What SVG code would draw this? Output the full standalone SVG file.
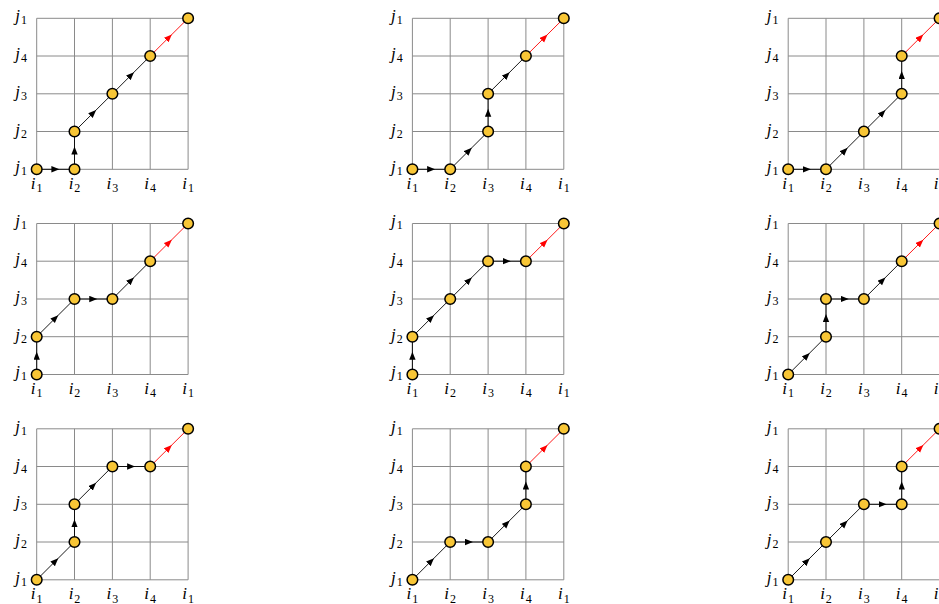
<svg xmlns="http://www.w3.org/2000/svg" width="939" height="604" viewBox="0 0 939 604">
<style>
.grid{fill:none;stroke:#8a8a8a;stroke-width:1}
.lbl{font-family:"Liberation Serif","DejaVu Serif",serif;font-style:italic;font-size:17px;fill:#000}
.sub{font-style:normal;font-size:12px}
.je{text-anchor:end}
.im{text-anchor:middle}
.c{fill:none;stroke:#000;stroke-width:0.9;marker-mid:url(#ah)}
.r{fill:none;stroke:#ff0000;stroke-width:0.9;marker-mid:url(#ahr)}
.n{fill:#F8C636;stroke:#000;stroke-width:1.5}
</style>
<defs>
<marker id="ah" markerUnits="userSpaceOnUse" markerWidth="10" markerHeight="8" refX="4.2" refY="3.2" orient="auto"><path d="M0,0 L8,3.2 L0,6.4 z" fill="#000"/></marker>
<marker id="ahr" markerUnits="userSpaceOnUse" markerWidth="10" markerHeight="8" refX="4.2" refY="3.2" orient="auto"><path d="M0,0 L8,3.2 L0,6.4 z" fill="#ff0000"/></marker>
<path id="gridp" class="grid" d="M36.7 18.3V169.3M74.5 18.3V169.3M112.4 18.3V169.3M150.2 18.3V169.3M188.1 18.3V169.3M36.7 18.3H188.1M36.7 56H188.1M36.7 93.8H188.1M36.7 131.5H188.1M36.7 169.3H188.1"/>
</defs>
<rect width="939" height="604" fill="#fff"/>

<!-- Panel 1,1 -->
<g id="p11">
<use href="#gridp"/>
<text class="lbl je" x="27" y="172.3">j<tspan class="sub" dx="1" dy="3">1</tspan></text>
<text class="lbl je" x="27" y="134.5">j<tspan class="sub" dx="1" dy="3">2</tspan></text>
<text class="lbl je" x="27" y="96.8">j<tspan class="sub" dx="1" dy="3">3</tspan></text>
<text class="lbl je" x="27" y="59">j<tspan class="sub" dx="1" dy="3">4</tspan></text>
<text class="lbl je" x="27" y="21.3">j<tspan class="sub" dx="1" dy="3">1</tspan></text>
<text class="lbl im" x="36.7" y="188.5">i<tspan class="sub" dx="1" dy="3.5">1</tspan></text>
<text class="lbl im" x="74.5" y="188.5">i<tspan class="sub" dx="1" dy="3.5">2</tspan></text>
<text class="lbl im" x="112.4" y="188.5">i<tspan class="sub" dx="1" dy="3.5">3</tspan></text>
<text class="lbl im" x="150.2" y="188.5">i<tspan class="sub" dx="1" dy="3.5">4</tspan></text>
<text class="lbl im" x="188.1" y="188.5">i<tspan class="sub" dx="1" dy="3.5">1</tspan></text>
<g id="p11-connectors">
<path class="c" d="M36.7 169.3 L55.6 169.3 L74.5 169.3"/>
<path class="c" d="M74.5 169.3 L74.5 150.4 L74.5 131.5"/>
<path class="c" d="M74.5 131.5 L93.45 112.65 L112.4 93.8"/>
<path class="c" d="M112.4 93.8 L131.3 74.9 L150.2 56"/>
<path class="r" d="M150.2 56 L169.15 37.15 L188.1 18.3"/>
</g>
<g id="n11-1"><circle class="n" cx="36.7" cy="169.3" r="5.3"/></g>
<g id="n11-2"><circle class="n" cx="74.5" cy="169.3" r="5.3"/></g>
<g id="n11-3"><circle class="n" cx="74.5" cy="131.5" r="5.3"/></g>
<g id="n11-4"><circle class="n" cx="112.4" cy="93.8" r="5.3"/></g>
<g id="n11-5"><circle class="n" cx="150.2" cy="56" r="5.3"/></g>
<g id="n11-6"><circle class="n" cx="188.1" cy="18.3" r="5.3"/></g>
</g>

<!-- Panel 1,2 -->
<g id="p12" transform="translate(375.7,0)">
<use href="#gridp"/>
<text class="lbl je" x="27" y="172.3">j<tspan class="sub" dx="1" dy="3">1</tspan></text>
<text class="lbl je" x="27" y="134.5">j<tspan class="sub" dx="1" dy="3">2</tspan></text>
<text class="lbl je" x="27" y="96.8">j<tspan class="sub" dx="1" dy="3">3</tspan></text>
<text class="lbl je" x="27" y="59">j<tspan class="sub" dx="1" dy="3">4</tspan></text>
<text class="lbl je" x="27" y="21.3">j<tspan class="sub" dx="1" dy="3">1</tspan></text>
<text class="lbl im" x="36.7" y="188.5">i<tspan class="sub" dx="1" dy="3.5">1</tspan></text>
<text class="lbl im" x="74.5" y="188.5">i<tspan class="sub" dx="1" dy="3.5">2</tspan></text>
<text class="lbl im" x="112.4" y="188.5">i<tspan class="sub" dx="1" dy="3.5">3</tspan></text>
<text class="lbl im" x="150.2" y="188.5">i<tspan class="sub" dx="1" dy="3.5">4</tspan></text>
<text class="lbl im" x="188.1" y="188.5">i<tspan class="sub" dx="1" dy="3.5">1</tspan></text>
<g id="p12-connectors">
<path class="c" d="M36.7 169.3 L55.6 169.3 L74.5 169.3"/>
<path class="c" d="M74.5 169.3 L93.45 150.4 L112.4 131.5"/>
<path class="c" d="M112.4 131.5 L112.4 112.65 L112.4 93.8"/>
<path class="c" d="M112.4 93.8 L131.3 74.9 L150.2 56"/>
<path class="r" d="M150.2 56 L169.15 37.15 L188.1 18.3"/>
</g>
<g id="n12-1"><circle class="n" cx="36.7" cy="169.3" r="5.3"/></g>
<g id="n12-2"><circle class="n" cx="74.5" cy="169.3" r="5.3"/></g>
<g id="n12-3"><circle class="n" cx="112.4" cy="131.5" r="5.3"/></g>
<g id="n12-4"><circle class="n" cx="112.4" cy="93.8" r="5.3"/></g>
<g id="n12-5"><circle class="n" cx="150.2" cy="56" r="5.3"/></g>
<g id="n12-6"><circle class="n" cx="188.1" cy="18.3" r="5.3"/></g>
</g>

<!-- Panel 1,3 -->
<g id="p13" transform="translate(751.5,0)">
<use href="#gridp"/>
<text class="lbl je" x="27" y="172.3">j<tspan class="sub" dx="1" dy="3">1</tspan></text>
<text class="lbl je" x="27" y="134.5">j<tspan class="sub" dx="1" dy="3">2</tspan></text>
<text class="lbl je" x="27" y="96.8">j<tspan class="sub" dx="1" dy="3">3</tspan></text>
<text class="lbl je" x="27" y="59">j<tspan class="sub" dx="1" dy="3">4</tspan></text>
<text class="lbl je" x="27" y="21.3">j<tspan class="sub" dx="1" dy="3">1</tspan></text>
<text class="lbl im" x="36.7" y="188.5">i<tspan class="sub" dx="1" dy="3.5">1</tspan></text>
<text class="lbl im" x="74.5" y="188.5">i<tspan class="sub" dx="1" dy="3.5">2</tspan></text>
<text class="lbl im" x="112.4" y="188.5">i<tspan class="sub" dx="1" dy="3.5">3</tspan></text>
<text class="lbl im" x="150.2" y="188.5">i<tspan class="sub" dx="1" dy="3.5">4</tspan></text>
<text class="lbl im" x="188.1" y="188.5">i<tspan class="sub" dx="1" dy="3.5">1</tspan></text>
<g id="p13-connectors">
<path class="c" d="M36.7 169.3 L55.6 169.3 L74.5 169.3"/>
<path class="c" d="M74.5 169.3 L93.45 150.4 L112.4 131.5"/>
<path class="c" d="M112.4 131.5 L131.3 112.65 L150.2 93.8"/>
<path class="c" d="M150.2 93.8 L150.2 74.9 L150.2 56"/>
<path class="r" d="M150.2 56 L169.15 37.15 L188.1 18.3"/>
</g>
<g id="n13-1"><circle class="n" cx="36.7" cy="169.3" r="5.3"/></g>
<g id="n13-2"><circle class="n" cx="74.5" cy="169.3" r="5.3"/></g>
<g id="n13-3"><circle class="n" cx="112.4" cy="131.5" r="5.3"/></g>
<g id="n13-4"><circle class="n" cx="150.2" cy="93.8" r="5.3"/></g>
<g id="n13-5"><circle class="n" cx="150.2" cy="56" r="5.3"/></g>
<g id="n13-6"><circle class="n" cx="188.1" cy="18.3" r="5.3"/></g>
</g>

<!-- Panel 2,1 -->
<g id="p21" transform="translate(0,205.2)">
<use href="#gridp"/>
<text class="lbl je" x="27" y="172.3">j<tspan class="sub" dx="1" dy="3">1</tspan></text>
<text class="lbl je" x="27" y="134.5">j<tspan class="sub" dx="1" dy="3">2</tspan></text>
<text class="lbl je" x="27" y="96.8">j<tspan class="sub" dx="1" dy="3">3</tspan></text>
<text class="lbl je" x="27" y="59">j<tspan class="sub" dx="1" dy="3">4</tspan></text>
<text class="lbl je" x="27" y="21.3">j<tspan class="sub" dx="1" dy="3">1</tspan></text>
<text class="lbl im" x="36.7" y="188.5">i<tspan class="sub" dx="1" dy="3.5">1</tspan></text>
<text class="lbl im" x="74.5" y="188.5">i<tspan class="sub" dx="1" dy="3.5">2</tspan></text>
<text class="lbl im" x="112.4" y="188.5">i<tspan class="sub" dx="1" dy="3.5">3</tspan></text>
<text class="lbl im" x="150.2" y="188.5">i<tspan class="sub" dx="1" dy="3.5">4</tspan></text>
<text class="lbl im" x="188.1" y="188.5">i<tspan class="sub" dx="1" dy="3.5">1</tspan></text>
<g id="p21-connectors">
<path class="c" d="M36.7 169.3 L36.7 150.4 L36.7 131.5"/>
<path class="c" d="M36.7 131.5 L55.6 112.65 L74.5 93.8"/>
<path class="c" d="M74.5 93.8 L93.45 93.8 L112.4 93.8"/>
<path class="c" d="M112.4 93.8 L131.3 74.9 L150.2 56"/>
<path class="r" d="M150.2 56 L169.15 37.15 L188.1 18.3"/>
</g>
<g id="n21-1"><circle class="n" cx="36.7" cy="169.3" r="5.3"/></g>
<g id="n21-2"><circle class="n" cx="36.7" cy="131.5" r="5.3"/></g>
<g id="n21-3"><circle class="n" cx="74.5" cy="93.8" r="5.3"/></g>
<g id="n21-4"><circle class="n" cx="112.4" cy="93.8" r="5.3"/></g>
<g id="n21-5"><circle class="n" cx="150.2" cy="56" r="5.3"/></g>
<g id="n21-6"><circle class="n" cx="188.1" cy="18.3" r="5.3"/></g>
</g>

<!-- Panel 2,2 -->
<g id="p22" transform="translate(375.7,205.2)">
<use href="#gridp"/>
<text class="lbl je" x="27" y="172.3">j<tspan class="sub" dx="1" dy="3">1</tspan></text>
<text class="lbl je" x="27" y="134.5">j<tspan class="sub" dx="1" dy="3">2</tspan></text>
<text class="lbl je" x="27" y="96.8">j<tspan class="sub" dx="1" dy="3">3</tspan></text>
<text class="lbl je" x="27" y="59">j<tspan class="sub" dx="1" dy="3">4</tspan></text>
<text class="lbl je" x="27" y="21.3">j<tspan class="sub" dx="1" dy="3">1</tspan></text>
<text class="lbl im" x="36.7" y="188.5">i<tspan class="sub" dx="1" dy="3.5">1</tspan></text>
<text class="lbl im" x="74.5" y="188.5">i<tspan class="sub" dx="1" dy="3.5">2</tspan></text>
<text class="lbl im" x="112.4" y="188.5">i<tspan class="sub" dx="1" dy="3.5">3</tspan></text>
<text class="lbl im" x="150.2" y="188.5">i<tspan class="sub" dx="1" dy="3.5">4</tspan></text>
<text class="lbl im" x="188.1" y="188.5">i<tspan class="sub" dx="1" dy="3.5">1</tspan></text>
<g id="p22-connectors">
<path class="c" d="M36.7 169.3 L36.7 150.4 L36.7 131.5"/>
<path class="c" d="M36.7 131.5 L55.6 112.65 L74.5 93.8"/>
<path class="c" d="M74.5 93.8 L93.45 74.9 L112.4 56"/>
<path class="c" d="M112.4 56 L131.3 56 L150.2 56"/>
<path class="r" d="M150.2 56 L169.15 37.15 L188.1 18.3"/>
</g>
<g id="n22-1"><circle class="n" cx="36.7" cy="169.3" r="5.3"/></g>
<g id="n22-2"><circle class="n" cx="36.7" cy="131.5" r="5.3"/></g>
<g id="n22-3"><circle class="n" cx="74.5" cy="93.8" r="5.3"/></g>
<g id="n22-4"><circle class="n" cx="112.4" cy="56" r="5.3"/></g>
<g id="n22-5"><circle class="n" cx="150.2" cy="56" r="5.3"/></g>
<g id="n22-6"><circle class="n" cx="188.1" cy="18.3" r="5.3"/></g>
</g>

<!-- Panel 2,3 -->
<g id="p23" transform="translate(751.5,205.2)">
<use href="#gridp"/>
<text class="lbl je" x="27" y="172.3">j<tspan class="sub" dx="1" dy="3">1</tspan></text>
<text class="lbl je" x="27" y="134.5">j<tspan class="sub" dx="1" dy="3">2</tspan></text>
<text class="lbl je" x="27" y="96.8">j<tspan class="sub" dx="1" dy="3">3</tspan></text>
<text class="lbl je" x="27" y="59">j<tspan class="sub" dx="1" dy="3">4</tspan></text>
<text class="lbl je" x="27" y="21.3">j<tspan class="sub" dx="1" dy="3">1</tspan></text>
<text class="lbl im" x="36.7" y="188.5">i<tspan class="sub" dx="1" dy="3.5">1</tspan></text>
<text class="lbl im" x="74.5" y="188.5">i<tspan class="sub" dx="1" dy="3.5">2</tspan></text>
<text class="lbl im" x="112.4" y="188.5">i<tspan class="sub" dx="1" dy="3.5">3</tspan></text>
<text class="lbl im" x="150.2" y="188.5">i<tspan class="sub" dx="1" dy="3.5">4</tspan></text>
<text class="lbl im" x="188.1" y="188.5">i<tspan class="sub" dx="1" dy="3.5">1</tspan></text>
<g id="p23-connectors">
<path class="c" d="M36.7 169.3 L55.6 150.4 L74.5 131.5"/>
<path class="c" d="M74.5 131.5 L74.5 112.65 L74.5 93.8"/>
<path class="c" d="M74.5 93.8 L93.45 93.8 L112.4 93.8"/>
<path class="c" d="M112.4 93.8 L131.3 74.9 L150.2 56"/>
<path class="r" d="M150.2 56 L169.15 37.15 L188.1 18.3"/>
</g>
<g id="n23-1"><circle class="n" cx="36.7" cy="169.3" r="5.3"/></g>
<g id="n23-2"><circle class="n" cx="74.5" cy="131.5" r="5.3"/></g>
<g id="n23-3"><circle class="n" cx="74.5" cy="93.8" r="5.3"/></g>
<g id="n23-4"><circle class="n" cx="112.4" cy="93.8" r="5.3"/></g>
<g id="n23-5"><circle class="n" cx="150.2" cy="56" r="5.3"/></g>
<g id="n23-6"><circle class="n" cx="188.1" cy="18.3" r="5.3"/></g>
</g>

<!-- Panel 3,1 -->
<g id="p31" transform="translate(0,410.5)">
<use href="#gridp"/>
<text class="lbl je" x="27" y="172.3">j<tspan class="sub" dx="1" dy="3">1</tspan></text>
<text class="lbl je" x="27" y="134.5">j<tspan class="sub" dx="1" dy="3">2</tspan></text>
<text class="lbl je" x="27" y="96.8">j<tspan class="sub" dx="1" dy="3">3</tspan></text>
<text class="lbl je" x="27" y="59">j<tspan class="sub" dx="1" dy="3">4</tspan></text>
<text class="lbl je" x="27" y="21.3">j<tspan class="sub" dx="1" dy="3">1</tspan></text>
<text class="lbl im" x="36.7" y="188.5">i<tspan class="sub" dx="1" dy="3.5">1</tspan></text>
<text class="lbl im" x="74.5" y="188.5">i<tspan class="sub" dx="1" dy="3.5">2</tspan></text>
<text class="lbl im" x="112.4" y="188.5">i<tspan class="sub" dx="1" dy="3.5">3</tspan></text>
<text class="lbl im" x="150.2" y="188.5">i<tspan class="sub" dx="1" dy="3.5">4</tspan></text>
<text class="lbl im" x="188.1" y="188.5">i<tspan class="sub" dx="1" dy="3.5">1</tspan></text>
<g id="p31-connectors">
<path class="c" d="M36.7 169.3 L55.6 150.4 L74.5 131.5"/>
<path class="c" d="M74.5 131.5 L74.5 112.65 L74.5 93.8"/>
<path class="c" d="M74.5 93.8 L93.45 74.9 L112.4 56"/>
<path class="c" d="M112.4 56 L131.3 56 L150.2 56"/>
<path class="r" d="M150.2 56 L169.15 37.15 L188.1 18.3"/>
</g>
<g id="n31-1"><circle class="n" cx="36.7" cy="169.3" r="5.3"/></g>
<g id="n31-2"><circle class="n" cx="74.5" cy="131.5" r="5.3"/></g>
<g id="n31-3"><circle class="n" cx="74.5" cy="93.8" r="5.3"/></g>
<g id="n31-4"><circle class="n" cx="112.4" cy="56" r="5.3"/></g>
<g id="n31-5"><circle class="n" cx="150.2" cy="56" r="5.3"/></g>
<g id="n31-6"><circle class="n" cx="188.1" cy="18.3" r="5.3"/></g>
</g>

<!-- Panel 3,2 -->
<g id="p32" transform="translate(375.7,410.5)">
<use href="#gridp"/>
<text class="lbl je" x="27" y="172.3">j<tspan class="sub" dx="1" dy="3">1</tspan></text>
<text class="lbl je" x="27" y="134.5">j<tspan class="sub" dx="1" dy="3">2</tspan></text>
<text class="lbl je" x="27" y="96.8">j<tspan class="sub" dx="1" dy="3">3</tspan></text>
<text class="lbl je" x="27" y="59">j<tspan class="sub" dx="1" dy="3">4</tspan></text>
<text class="lbl je" x="27" y="21.3">j<tspan class="sub" dx="1" dy="3">1</tspan></text>
<text class="lbl im" x="36.7" y="188.5">i<tspan class="sub" dx="1" dy="3.5">1</tspan></text>
<text class="lbl im" x="74.5" y="188.5">i<tspan class="sub" dx="1" dy="3.5">2</tspan></text>
<text class="lbl im" x="112.4" y="188.5">i<tspan class="sub" dx="1" dy="3.5">3</tspan></text>
<text class="lbl im" x="150.2" y="188.5">i<tspan class="sub" dx="1" dy="3.5">4</tspan></text>
<text class="lbl im" x="188.1" y="188.5">i<tspan class="sub" dx="1" dy="3.5">1</tspan></text>
<g id="p32-connectors">
<path class="c" d="M36.7 169.3 L55.6 150.4 L74.5 131.5"/>
<path class="c" d="M74.5 131.5 L93.45 131.5 L112.4 131.5"/>
<path class="c" d="M112.4 131.5 L131.3 112.65 L150.2 93.8"/>
<path class="c" d="M150.2 93.8 L150.2 74.9 L150.2 56"/>
<path class="r" d="M150.2 56 L169.15 37.15 L188.1 18.3"/>
</g>
<g id="n32-1"><circle class="n" cx="36.7" cy="169.3" r="5.3"/></g>
<g id="n32-2"><circle class="n" cx="74.5" cy="131.5" r="5.3"/></g>
<g id="n32-3"><circle class="n" cx="112.4" cy="131.5" r="5.3"/></g>
<g id="n32-4"><circle class="n" cx="150.2" cy="93.8" r="5.3"/></g>
<g id="n32-5"><circle class="n" cx="150.2" cy="56" r="5.3"/></g>
<g id="n32-6"><circle class="n" cx="188.1" cy="18.3" r="5.3"/></g>
</g>

<!-- Panel 3,3 -->
<g id="p33" transform="translate(751.5,410.5)">
<use href="#gridp"/>
<text class="lbl je" x="27" y="172.3">j<tspan class="sub" dx="1" dy="3">1</tspan></text>
<text class="lbl je" x="27" y="134.5">j<tspan class="sub" dx="1" dy="3">2</tspan></text>
<text class="lbl je" x="27" y="96.8">j<tspan class="sub" dx="1" dy="3">3</tspan></text>
<text class="lbl je" x="27" y="59">j<tspan class="sub" dx="1" dy="3">4</tspan></text>
<text class="lbl je" x="27" y="21.3">j<tspan class="sub" dx="1" dy="3">1</tspan></text>
<text class="lbl im" x="36.7" y="188.5">i<tspan class="sub" dx="1" dy="3.5">1</tspan></text>
<text class="lbl im" x="74.5" y="188.5">i<tspan class="sub" dx="1" dy="3.5">2</tspan></text>
<text class="lbl im" x="112.4" y="188.5">i<tspan class="sub" dx="1" dy="3.5">3</tspan></text>
<text class="lbl im" x="150.2" y="188.5">i<tspan class="sub" dx="1" dy="3.5">4</tspan></text>
<text class="lbl im" x="188.1" y="188.5">i<tspan class="sub" dx="1" dy="3.5">1</tspan></text>
<g id="p33-connectors">
<path class="c" d="M36.7 169.3 L55.6 150.4 L74.5 131.5"/>
<path class="c" d="M74.5 131.5 L93.45 112.65 L112.4 93.8"/>
<path class="c" d="M112.4 93.8 L131.3 93.8 L150.2 93.8"/>
<path class="c" d="M150.2 93.8 L150.2 74.9 L150.2 56"/>
<path class="r" d="M150.2 56 L169.15 37.15 L188.1 18.3"/>
</g>
<g id="n33-1"><circle class="n" cx="36.7" cy="169.3" r="5.3"/></g>
<g id="n33-2"><circle class="n" cx="74.5" cy="131.5" r="5.3"/></g>
<g id="n33-3"><circle class="n" cx="112.4" cy="93.8" r="5.3"/></g>
<g id="n33-4"><circle class="n" cx="150.2" cy="93.8" r="5.3"/></g>
<g id="n33-5"><circle class="n" cx="150.2" cy="56" r="5.3"/></g>
<g id="n33-6"><circle class="n" cx="188.1" cy="18.3" r="5.3"/></g>
</g>
</svg>
